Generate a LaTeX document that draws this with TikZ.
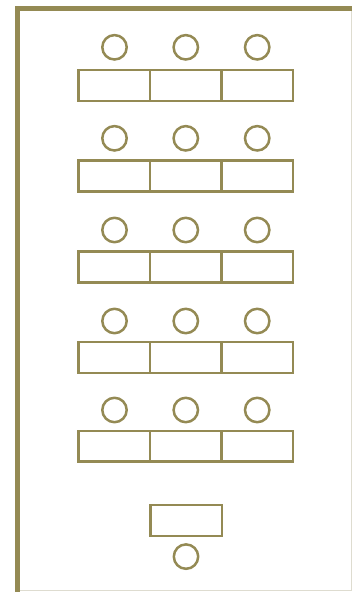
\documentclass[tikz,border=0pt]{standalone}
\definecolor{olive}{RGB}{148,138,84}
\definecolor{lightedge}{RGB}{222,220,208}
\begin{document}
\begin{tikzpicture}[x=1pt,y=-1pt,
  seat/.style={draw=olive,line width=2.5pt,circle,inner sep=0pt,minimum size=24.4pt},
  desk/.style={draw=olive,line width=2.5pt,rectangle,inner sep=0pt,minimum width=71.5pt,minimum height=30.8pt}]
\useasboundingbox (0,0) rectangle (353,592);
% frame
\draw[lightedge,line width=1.5pt] (17,590.5) -- (351.5,590.5) -- (351.5,8);
\draw[olive,line width=5.8pt] (17.5,592) -- (17.5,8.5) -- (352,8.5);
% rows
\foreach \r/\cy/\dy in {1/47.3/85.5, 2/138.3/176, 3/230/267, 4/321/357.5, 5/410/446.3}{
  \foreach \c/\cx/\dx in {1/114.5/114.25, 2/185.8/185.75, 3/257.2/257.25}{
    \node[seat] (s\r\c) at (\cx,\cy) {};
    \node[desk] (d\r\c) at (\dx,\dy) {};
  }
}
% teacher
\node[desk] (td) at (186,520.6) {};
\node[seat] (ts) at (186,556.6) {};
\end{tikzpicture}
\end{document}
